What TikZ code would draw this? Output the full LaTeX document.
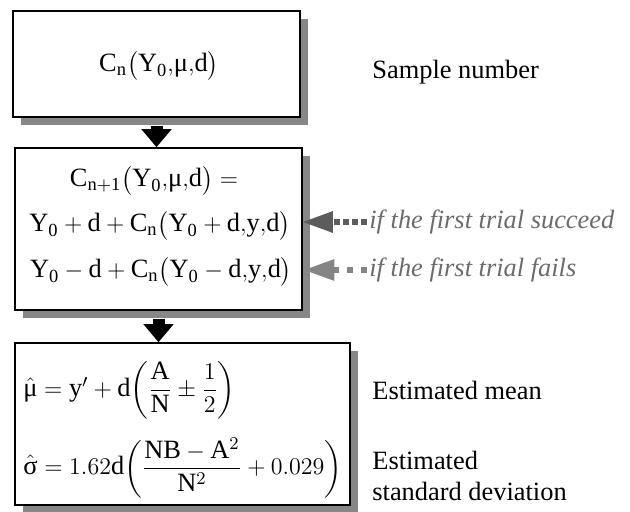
\documentclass[tikz,border=0pt]{standalone}
\usepackage{fontspec}
\setmainfont{Liberation Serif}
\usepackage{amsmath}
\usetikzlibrary{positioning, arrows.meta, calc, shadows}

\definecolor{shadowgray}{gray}{0.53}
\definecolor{hintdark}{gray}{0.36}
\definecolor{hintlight}{gray}{0.52}
\definecolor{hinttext}{gray}{0.42}

\begin{document}
\begin{tikzpicture}[
    x=0.5pt, y=-0.5pt,
    font=\fontsize{13.2}{15.5}\selectfont,
    stage/.style={
        rectangle, draw=black, line width=0.75pt, fill=white, inner sep=0pt,
        drop shadow={shadow xshift=4pt, shadow yshift=-4pt, fill=shadowgray, opacity=1}
    },
    formula/.style={inner sep=0pt},
    note/.style={anchor=west, inner sep=1pt, align=left},
    hint/.style={anchor=west, inner sep=1pt, text=hinttext, font=\fontsize{13.2}{15.5}\selectfont\itshape},
    flow/.style={line width=6pt, -{Triangle[length=9pt, width=14.5pt]}},
    hintarr/.style={line width=3pt, -{Triangle[length=15.5pt, width=10pt]}},
]
\useasboundingbox (0,0) rectangle (630,512);

% Boxes
\node[stage, minimum width=143.5pt, minimum height=53pt] (init) at (156.5,64) {};
\node[stage, minimum width=143.5pt, minimum height=81pt] (recur) at (158.5,229) {};
\node[stage, minimum width=167.5pt, minimum height=81pt] (estim) at (182.5,424) {};

% Formulas
\node[formula] (cn) at (159,66)
    {$\mathrm{C_n}\bigl(\mathrm{Y_0}{,}\text{μ}{,}\mathrm{d}\bigr)$};
\node[formula] (cnext) at (154,181)
    {$\mathrm{C_{n+1}}\bigl(\mathrm{Y_0}{,}\text{μ}{,}\mathrm{d}\bigr) =$};
\node[formula] (succ) at (160,226)
    {$\mathrm{Y_0} + \mathrm{d} + \mathrm{C_n}\bigl(\mathrm{Y_0} + \mathrm{d}{,}\mathrm{y}{,}\mathrm{d}\bigr)$};
\node[formula] (fail) at (161,272)
    {$\mathrm{Y_0} - \mathrm{d} + \mathrm{C_n}\bigl(\mathrm{Y_0} - \mathrm{d}{,}\mathrm{y}{,}\mathrm{d}\bigr)$};
\node[formula, anchor=west] (mean) at (23,390)
    {$\hat{\text{μ}} = \mathrm{y}' + \mathrm{d}{\left(\dfrac{\mathrm{A}}{\mathrm{N}} \pm \dfrac{1}{2}\right)}$};
\node[formula, anchor=west] (sdev) at (23,468)
    {$\hat{\text{σ}} = 1.62\mathrm{d}{\left(\dfrac{\mathrm{NB} - \mathrm{A}^2}{\mathrm{N}^2} + 0.029\right)}$};

% Side notes
\node[note] (samplelbl) at (370,72) {Sample number};
\node[note] (meanlbl) at (370,390) {Estimated mean};
\node[note] (sdevlbl) at (370,476) {Estimated\\standard deviation};
\node[hint] (succlbl) at (367,222) {if the first trial succeed};
\node[hint] (faillbl) at (367,270) {if the first trial fails};

% Flow arrows
\draw[flow] ([yshift=-4pt]init.south) -- (init.south |- recur.north);
\draw[flow] ([yshift=-4pt]recur.south) -- (recur.south |- estim.north);

% Branch hints
\coordinate (succ_tip) at ([xshift=5.5pt]succ.east);
\coordinate (fail_tip) at ([xshift=5.5pt]fail.east);
\draw[hintarr, hintdark, dash pattern=on 3.25pt off 1.25pt] (succlbl.west) -- (succlbl.west -| succ_tip);
\draw[hintarr, hintlight, dash pattern=on 3pt off 4pt] (faillbl.west) -- (faillbl.west -| fail_tip);

\end{tikzpicture}
\end{document}
